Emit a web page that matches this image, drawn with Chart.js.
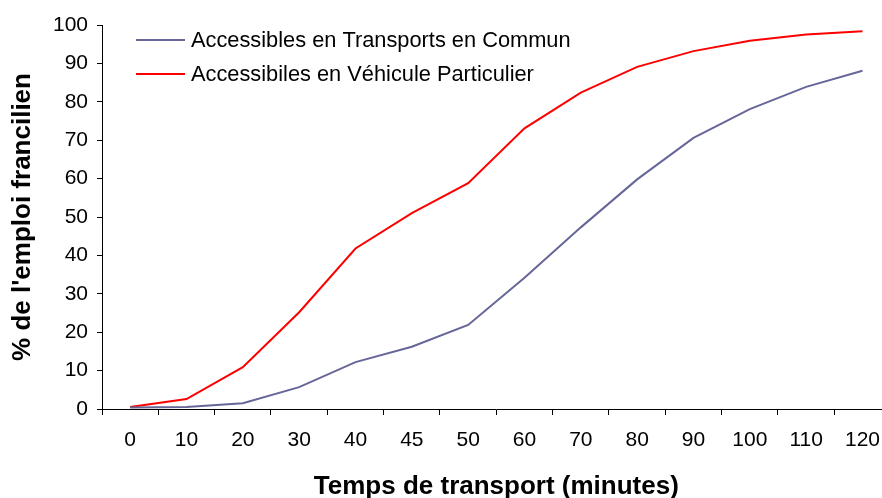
<!DOCTYPE html>
<html>
<head>
<meta charset="utf-8">
<script src="https://cdn.jsdelivr.net/npm/chart.js@4.4.1/dist/chart.umd.min.js"></script>
<style>
  html, body { margin: 0; padding: 0; background: #fff; overflow: hidden; }
</style>
</head>
<body>
<canvas id="emploi" width="893" height="498"></canvas>
<script>
var minutes = ['0', '10', '20', '30', '40', '45', '50', '60', '70', '80', '90', '100', '110', '120'];
var transportsCommun = [0.4, 0.5, 1.5, 5.7, 12.2, 16.2, 21.9, 34.2, 47.3, 59.8, 70.6, 78.1, 83.9, 88.1];
var vehiculeParticulier = [0.5, 2.6, 10.9, 25.2, 41.8, 51.0, 58.8, 73.1, 82.4, 89.1, 93.2, 95.9, 97.5, 98.4];

var police = "'Liberation Sans', Arial, sans-serif";

// legende dessinee dans la zone du graphique, en haut a gauche
var legendeInterne = {
  id: 'legendeInterne',
  afterDraw: function (chart) {
    var ctx = chart.ctx;
    ctx.save();
    ctx.font = '21.8px ' + police;
    ctx.textBaseline = 'middle';
    chart.data.datasets.forEach(function (ds, i) {
      var y = 40 + i * 34;
      ctx.strokeStyle = ds.borderColor;
      ctx.lineWidth = 2;
      ctx.beginPath();
      ctx.moveTo(136, y);
      ctx.lineTo(185, y);
      ctx.stroke();
      ctx.fillStyle = '#000';
      ctx.fillText(ds.label, 191, y + 1);
    });
    ctx.restore();
  }
};

var emploi = document.getElementById('emploi').getContext('2d');

var courbesEmploi = new Chart(emploi, {
  type: 'line',
  data: {
    labels: minutes,
    datasets: [{
      label: 'Accessibles en Transports en Commun',
      data: transportsCommun,
      borderColor: '#666699',
      backgroundColor: '#666699',
      borderWidth: 2,
      pointRadius: 0,
      tension: 0
    }, {
      label: 'Accessibiles en Véhicule Particulier',
      data: vehiculeParticulier,
      borderColor: '#ff0000',
      backgroundColor: '#ff0000',
      borderWidth: 2,
      pointRadius: 0,
      tension: 0
    }]
  },
  options: {
    responsive: false,
    animation: false,
    layout: { padding: { top: 25, right: 0, bottom: 0, left: 0 } },
    plugins: {
      legend: { display: false },
      tooltip: { enabled: false }
    },
    scales: {
      x: {
        offset: true,
        grid: {
          offset: true,
          drawOnChartArea: false,
          drawTicks: true,
          tickLength: 6,
          color: '#000'
        },
        border: { color: '#000', width: 1 },
        ticks: {
          color: '#000',
          font: { family: police, size: 21 },
          padding: 13,
          maxRotation: 0,
          autoSkip: false
        },
        title: {
          display: true,
          text: 'Temps de transport (minutes)',
          color: '#000',
          font: { family: police, size: 26, weight: 'bold' },
          padding: { top: 0, bottom: -4 }
        },
        afterFit: function (scale) { scale.height = 89; }
      },
      y: {
        min: 0,
        max: 100,
        ticks: {
          stepSize: 10,
          color: '#000',
          font: { family: police, size: 21 },
          padding: 9
        },
        grid: {
          drawOnChartArea: false,
          drawTicks: true,
          tickLength: 5,
          color: '#000'
        },
        border: { color: '#000', width: 1 },
        title: {
          display: true,
          text: "% de l'emploi francilien",
          color: '#000',
          font: { family: police, size: 26, weight: 'bold' },
          padding: { top: 7, bottom: 0 }
        },
        afterFit: function (scale) { scale.width = 102; }
      }
    }
  },
  plugins: [legendeInterne]
});
</script>
</body>
</html>
